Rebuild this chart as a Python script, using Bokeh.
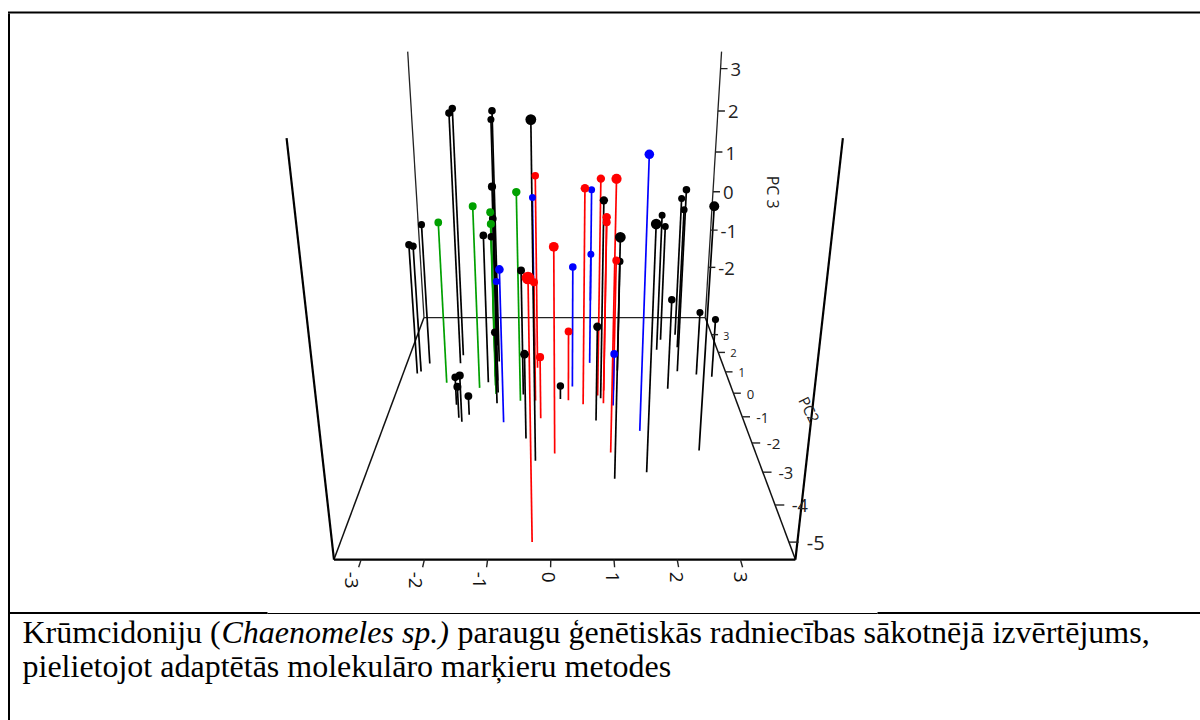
import math
from bokeh.plotting import figure
from bokeh.embed import file_html
from bokeh.resources import INLINE
from bokeh.models import Range1d
from bokeh.core.properties import value

# ---- data: PC scores ----
black_pc1=[-3.11,-3.04,-2.90,-2.19,-2.17,-1.30,-1.40,-1.22,-1.27,-1.33,-1.47,-0.33,-0.67,-1.21,-0.54,-2.06,-1.87,-1.95,-1.75,0.13,0.99,1.13,1.42,0.86,1.73,2.42,2.57,2.47,2.96,2.78,2.93,2.80,3.19,3.52]
black_pc2=[0.92,1.02,1.42,1.43,1.85,1.52,2.38,0.03,0.58,0.77,0.50,-2.62,-0.06,-0.44,-1.84,-0.50,-1.20,-1.04,-0.92,-0.25,-0.22,-3.21,1.07,-1.15,-3.00,2.14,2.70,0.20,2.99,1.03,2.28,-2.27,0.87,0.76]
black_pc3=[-0.30,-0.37,-0.01,2.44,2.46,2.47,2.12,1.23,0.39,-0.07,0.05,3.09,-0.52,-1.74,-1.55,-2.75,-2.34,-2.68,-2.96,-3.09,1.02,1.26,-0.74,-1.29,1.42,-0.02,-0.47,-1.28,0.13,0.89,0.07,1.51,-1.87,-1.99]
green_pc1=[-2.39,-1.64,-1.30,-1.26,-0.72]
green_pc2=[0.48,0.24,0.35,-0.03,-0.33]
green_pc3=[0.34,0.76,0.60,0.47,1.22]
blue_pc1=[-0.51,-1.02,-1.46,0.39,0.92,0.80,1.72,1.24]
blue_pc2=[2.38,-1.22,3.25,0.30,5.20,1.45,-1.55,-0.53]
blue_pc3=[0.33,-0.06,-2.07,-0.58,-0.27,-0.71,2.26,-2.19]
red_pc1=[-0.40,-0.27,0.03,-0.31,-0.40,0.30,0.61,0.93,1.04,1.07,1.10,1.28]
red_pc2=[1.20,-1.06,-2.37,-5.00,-0.32,-0.31,-0.48,-0.10,-0.44,0.12,-2.34,0.12]
red_pc3=[1.15,-2.00,0.80,1.24,-0.68,-1.78,1.34,1.43,0.74,0.46,2.02,-0.37]
series=[("#000000",black_pc1,black_pc2,black_pc3),("#00a000",green_pc1,green_pc2,green_pc3),
        ("#0000ff",blue_pc1,blue_pc2,blue_pc3),("#ff0000",red_pc1,red_pc2,red_pc3)]

pc1_ticks=[-3,-2,-1,0,1,2,3]
pc2_ticks=[3,2,1,0,-1,-2,-3,-4,-5]
pc3_ticks=[3,2,1,0,-1,-2]
pc1_lim=(-3.43,3.87); pc2_lim=(-5.43,4.05); pc3_lim=(-3.40,3.39)
cap_a="Krūmcidoniju ("; cap_b="Chaenomeles sp.)"
cap_c="paraugu ģenētiskās radniecības sākotnējā izvērtējums,"
cap_d="pielietojot adaptētās molekulāro marķieru metodes"

# ---- perspective camera ----
def proj(u,v,z):
    t=(z-pc3_lim[0])/(pc3_lim[1]-pc3_lim[0])
    w=.002205+.000109*v-.000275*t
    return 564+(u-.217)*.10197/w, -60.8+(1-.7345*t)/w
def depth_size(u,v,z):
    t=(z-pc3_lim[0])/(pc3_lim[1]-pc3_lim[0])
    w=.002205+.000109*v-.000275*t
    return max(7.0,.0239/w-3.6)

W,H=1200,720
p=figure(width=W,height=H,x_range=Range1d(0,W),y_range=Range1d(H,0),output_backend="svg",
         toolbar_location=None,min_border=0,outline_line_color=None)
p.axis.visible=False; p.grid.visible=False

def seg(a,b,w,c="#000000"):
    p.segment([a[0]],[a[1]],[b[0]],[b[1]],line_width=w,line_color=c)

# page frame
fr="#000000"
p.segment([7.5,8.5,7.5,267,877],[12,13,612.5,613,612.5],[1200,8.5,267,877,1200],[12,720,612.5,613,612.5],
          line_width=[2,2,2,1,2],line_color=fr)

U0,U1=pc1_lim; V0,V1=pc2_lim; Z0,Z1=pc3_lim
# back edges
seg(proj(U0,V1,Z0),proj(U1,V1,Z0),1.3,"#222222")
seg(proj(U0,V1,Z0),proj(U0,V1,Z1),1.3,"#222222")
seg(proj(U1,V1,Z0),proj(U1,V1,Z1),1.3,"#222222")
seg(proj(U0,V1,Z0),proj(U0,V0,Z0),1.5,"#111111")
seg(proj(U1,V1,Z0),proj(U1,V0,Z0),1.5,"#111111")

# stems and points, far to near
rows=[]
for col,a,b,c in series:
    for u,v,z in zip(a,b,c):
        rows.append((v,col,u,z))
rows.sort(key=lambda r:-r[0])
x0=[];y0=[];x1=[];y1=[];cs=[];sz=[]
for v,col,u,z in rows:
    fx,fy=proj(u,v,Z0); tx,ty=proj(u,v,z)
    x0.append(fx);y0.append(fy);x1.append(tx);y1.append(ty);cs.append(col);sz.append(depth_size(u,v,z))
p.segment(x0,y0,x1,y1,line_color=cs,line_width=1.7)
p.scatter(x1,y1,size=sz,fill_color=cs,line_color=cs,line_width=0)

# front edges
seg(proj(U0,V0,Z0),proj(U1,V0,Z0),2.2)
seg(proj(U0,V0,Z0),proj(U0,V0,Z1),2.2)
seg(proj(U1,V0,Z0),proj(U1,V0,Z1),2.2)

lab=value("Open Sans")
# PC1 ticks
for u in pc1_ticks:
    seg(proj(u,V0,Z0),proj(u,-5.61,Z0),1.4,"#222222")
    x,y=proj(u,-5.61,Z0)
    yy=y+(10 if u>=0 else 13)
    p.text([x-(2 if u>=0 else 7)],[yy],text=[str(u)],angle=-math.pi/2,text_align="center",text_baseline="middle",
           text_font=lab,text_font_size="19px",text_color="#111111")
# PC2 ticks
for v in pc2_ticks:
    a=proj(U1,v,Z0); b=proj(4.03,v,Z0)
    seg(a,b,1.4,"#222222")
    fs=20*((a[1]+60.8)/602.5)**1.5
    x=b[0]+2+0.30*fs
    p.text([x],[a[1]+1],text=[str(v)],text_align="left",text_baseline="middle",
           text_font=lab,text_font_size=f"{fs:.1f}px",text_color="#222222")
# PC3 ticks
for z in pc3_ticks:
    a=proj(U1,V1,z); b=(a[0]+7,a[1])
    seg(a,b,1.4,"#222222")
    p.text([b[0]+3],[a[1]+1],text=[str(z)],text_align="left",text_baseline="middle",
           text_font=lab,text_font_size="18.5px",text_color="#222222")
p.text([772.7],[191.7],text=["PC 3"],angle=-math.pi/2,text_align="center",text_baseline="middle",
       text_font=lab,text_font_size="16px",text_color="#222222")
p.text([809],[409],text=["PC2"],angle=-1.1,text_align="center",text_baseline="middle",
       text_font=lab,text_font_size="15px",text_color="#222222")

# caption
serif=value("Liberation Serif")
for x,y,t,st in [(22,631,cap_a,"normal"),(221,631,cap_b,"italic"),(457,631,cap_c,"normal"),(22,665,cap_d,"normal")]:
    p.text([x],[y],text=[t],text_font=serif,text_font_style=st,text_font_size="32px",
           text_color="#000000",text_baseline="alphabetic",text_align="left")

open("out.html","w").write(file_html(p,INLINE))
